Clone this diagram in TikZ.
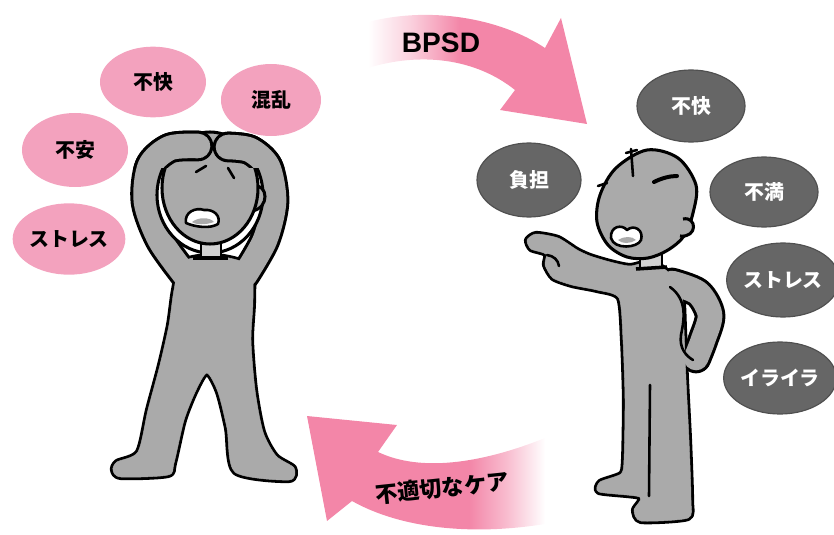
\documentclass[tikz,border=0pt]{standalone}
\usepackage{fontspec}
\usepackage{xcolor}
\usepackage{tikz}
\usetikzlibrary{shapes}

\newfontfamily\jpfont{Noto Sans CJK JP}
\newfontfamily\latinfont{Liberation Sans}

\definecolor{bubpink}{RGB}{243,162,190}
\definecolor{bubgray}{RGB}{102,102,102}
\definecolor{bubedge}{RGB}{80,80,80}
\definecolor{arrpink}{RGB}{243,134,168}
\definecolor{skin}{RGB}{170,170,170}
\definecolor{collargray}{RGB}{210,210,210}

% arrow fills fading out towards the tail
\pgfdeclarehorizontalshading{bpsdfade}{100bp}{color(0bp)=(white); color(25bp)=(white); color(35bp)=(arrpink!40); color(46bp)=(arrpink); color(100bp)=(arrpink)}
\pgfdeclarehorizontalshading{carefade}{100bp}{color(0bp)=(arrpink); color(59bp)=(arrpink); color(67bp)=(arrpink!55); color(75bp)=(white); color(100bp)=(white)}

\begin{document}
\begin{tikzpicture}[x=0.03cm, y=-0.03cm,
    pinkbub/.style={ellipse, fill=bubpink, inner sep=0pt, font=\jpfont\bfseries\fontsize{17}{20}\selectfont},
    graybub/.style={ellipse, fill=bubgray, draw=bubedge, line width=1pt, text=white, inner sep=0pt, font=\jpfont\bfseries\fontsize{17}{20}\selectfont},
    body/.style={fill=skin, draw=black, line width=2.6pt, line join=round},
    collarbox/.style={fill=collargray, draw=black, line width=2.2pt},
    feature/.style={draw=black, line width=2.2pt, line cap=round, line join=round}]
    \useasboundingbox (0,0) rectangle (834,535);

    % Feelings of the patient
    \node[pinkbub, minimum width=3.18cm, minimum height=2.12cm] (lfukai) at (153,82) {不快};
    \node[pinkbub, minimum width=3.0cm, minimum height=2.16cm] (konran) at (271,100) {混乱};
    \node[pinkbub, minimum width=3.18cm, minimum height=2.22cm] (fuan) at (75,150) {不安};
    \node[pinkbub, minimum width=2.96cm, minimum height=2.14cm] (lstress) at (69,239) {ストレス};

    % Feelings of the carer
    \node[graybub, minimum width=3.24cm, minimum height=2.16cm] (rfukai) at (691,106) {不快};
    \node[graybub, minimum width=3.12cm, minimum height=2.22cm] (futan) at (529,180) {負担};
    \node[graybub, minimum width=3.24cm, minimum height=2.1cm] (fuman) at (764,192) {不満};
    \node[graybub, minimum width=3.06cm, minimum height=2.22cm] (rstress) at (783,280) {ストレス};
    \node[graybub, minimum width=3.12cm, minimum height=2.16cm] (iraira) at (780,378) {イライラ};

    % Arrows
    \shade[shading=bpsdfade] (368,22) .. controls (430,6) and (500,18) .. (545,48) -- (561,18) -- (587,124)
        -- (500,110) -- (515,90) .. controls (475,58) and (420,52) .. (368,68) -- cycle;
    \node[font=\latinfont\bfseries\fontsize{24}{26}\selectfont] (bpsd) at (441,43) {BPSD};

    \shade[shading=carefade] (307,416) -- (397,425) -- (378,452) .. controls (420,472) and (480,464) .. (545,438)
        -- (545,524) .. controls (470,536) and (400,528) .. (352,501) -- (327,521) -- cycle;
    \node[font=\jpfont\bfseries\fontsize{19}{21}\selectfont, rotate=6] (care) at (442,488) {不適切なケア};

    % Left figure, black pass then gray pass
    \foreach \bw/\aw/\c in {5.2pt/26.2pt/black, 0.4pt/21pt/skin} {
        \path[draw=\c, fill=\c, line width=\bw, line join=round] plot[smooth cycle, tension=0.45] coordinates {
            (182,262) (174,290) (169,325) (160,365) (148,410) (138,452) (117,462) (113,470) (121,477) (168,475)
            (174,463) (184,420) (196,390) (207,373) (218,392) (227,428) (235,472) (289,480) (294,468) (276,456)
            (263,432) (255,390) (251,340) (253,300) (250,266) (215,256)};
        \path[draw=\c, line width=\aw, line cap=round, line join=round] plot[smooth] coordinates {
            (185,275) (160,240) (146,202) (150,166) (170,148) (198,146)};
        \path[draw=\c, line width=\aw, line cap=round, line join=round] plot[smooth] coordinates {
            (245,275) (265,240) (274,202) (268,167) (250,150) (228,147)};
    }
    \draw[fill=white, draw=black, line width=2.6pt] (210,195) ellipse [x radius=53, y radius=58];
    \draw[body] (254,186) .. controls (268,184) and (270,208) .. (252,211) -- cycle;
    \draw[collarbox] (201,238) rectangle (221,257);
    \draw[line width=3pt] (193,258) -- (228,258);
    \draw[body] (210,188) ellipse [x radius=48, y radius=56];
    % hands resting on the head
    \begin{scope}
        \clip (120,110) rectangle (300,167);
        \foreach \aw/\c in {26.2pt/black, 21pt/skin} {
            \path[draw=\c, line width=\aw, line cap=round, line join=round] plot[smooth] coordinates {
                (185,275) (160,240) (146,202) (150,166) (170,148) (198,146)};
            \path[draw=\c, line width=\aw, line cap=round, line join=round] plot[smooth] coordinates {
                (245,275) (265,240) (274,202) (268,167) (250,150) (228,147)};
        }
    \end{scope}
    \draw[feature] (196,172) -- (206,166);
    \draw[feature] (228,168) -- (234,178);
    \draw[feature, fill=white] (186,223) .. controls (184,212) and (196,207) .. (204,210)
        .. controls (214,209) and (221,216) .. (218,224) .. controls (210,229) and (195,227) .. (186,223) -- cycle;
    \fill[skin] (192,222) .. controls (198,217) and (210,217) .. (214,222) .. controls (206,225) and (196,225) .. (192,222);

    % Right figure, black pass then gray pass
    \foreach \bw/\aw/\c in {5.2pt/26.2pt/black, 0.4pt/21pt/skin} {
        \path[draw=\c, line width=\aw, line cap=round, line join=round] plot[smooth] coordinates {
            (672,283) (698,293) (710,315) (703,340) (696,358)};
        \path[draw=\c, fill=\c, line width=\bw, line join=round] plot[smooth cycle, tension=0.4] coordinates {
            (648,262) (630,266) (610,262) (590,256) (577,250) (558,238) (536,234) (527,240) (531,249) (546,254)
            (545,265) (553,278) (572,285) (597,290) (619,298) (623,340) (625,400) (624,460) (621,474) (600,482)
            (599,492) (640,497) (634,510) (641,521) (688,518) (691,500) (689,440) (686,380) (684,330) (682,295)
            (672,276) (660,266)};
    }
    \draw[feature] (650,385) -- (649,496);
    \draw[feature] (670,287) .. controls (688,300) and (684,320) .. (681,335) .. controls (679,348) and (686,356) .. (693,360);
    \draw[feature] (547,255) .. controls (554,256) and (558,260) .. (559,266);
    \draw[collarbox] (640,248) rectangle (662,268);
    \draw[line width=3pt] (636,269) -- (667,267);
    \draw[body] plot[smooth cycle, tension=0.55] coordinates {
        (647,150) (678,158) (696,185) (693,213) (684,236) (668,250) (648,258) (627,257) (608,245) (597,222)
        (600,195) (616,168)};
    \draw[body] (683,219) .. controls (697,216) and (698,238) .. (680,236);
    % hair and face
    \draw[feature] (631,149) -- (633,176);
    \draw[feature] (626,153) -- (637,150);
    \draw[feature] (598,186) -- (607,183);
    \draw[feature, line width=3.4pt] (654,182) .. controls (662,178) and (670,176) .. (677,176);
    \draw[feature, fill=white] (611,238) .. controls (610,226) and (622,224) .. (627,230)
        .. controls (634,224) and (644,230) .. (641,240) .. controls (638,248) and (614,250) .. (611,238) -- cycle;
    \fill[skin] (618,240) .. controls (624,236) and (632,236) .. (636,240) .. controls (630,244) and (622,244) .. (618,240);
\end{tikzpicture}
\end{document}
